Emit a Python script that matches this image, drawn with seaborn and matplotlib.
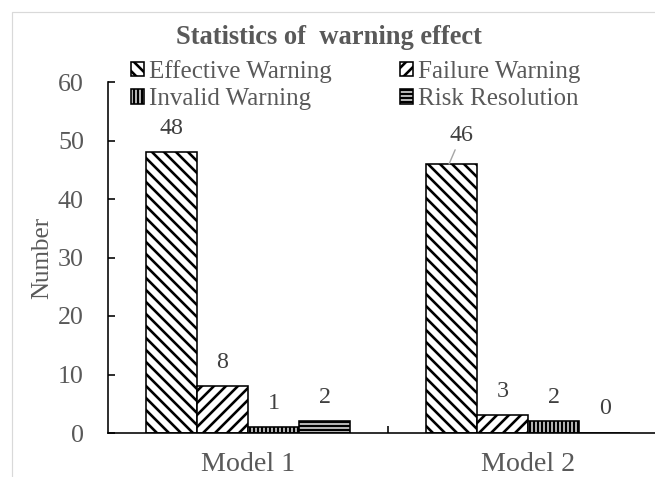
import matplotlib
matplotlib.use("Agg")
import matplotlib.pyplot as plt
import seaborn as sns
import pandas as pd
from matplotlib.patches import Rectangle, Patch

models = ["Model 1", "Model 2"]
series = ["Effective Warning", "Failure Warning", "Invalid Warning", "Risk Resolution"]
effective = [48, 46]
failure = [8, 3]
invalid = [1, 2]
risk = [2, 0]
yticks = [0, 10, 20, 30, 40, 50, 60]

values = {"Effective Warning": effective, "Failure Warning": failure,
          "Invalid Warning": invalid, "Risk Resolution": risk}
rows = []
for s in series:
    for m, v in zip(models, values[s]):
        rows.append({"Model": m, "Series": s, "Number": v})
df = pd.DataFrame(rows)

sns.set_theme(style="white")
plt.rcParams['font.family'] = ['Liberation Serif', 'DejaVu Serif']
plt.rcParams['hatch.linewidth'] = 2.6

DPI = 72
fig = plt.figure(figsize=(655 / DPI, 477 / DPI), dpi=DPI)
ax = fig.add_axes([108 / 655, 44 / 477, 560 / 655, 351 / 477])

sns.barplot(data=df, x="Model", y="Number", hue="Series", order=models,
            hue_order=series, width=0.73, ax=ax, legend=False,
            palette=["white"] * 4, edgecolor="black", linewidth=1.6,
            saturation=1)

hatches = ["\\\\", "//", "|||", "---"]
for cont, h in zip(ax.containers, hatches):
    for p in cont.patches:
        p.set_hatch(h)
        p.set_facecolor("white")
        p.set_edgecolor("black")

ax.set_ylim(0, 60)
ax.set_xlim(-0.5, 1.5)
ax.set_yticks(yticks)
ax.set_yticklabels([str(t) for t in yticks])
ax.set_xlabel("")
ax.set_ylabel("Number", fontsize=25, color="#595959", labelpad=5)

for side in ["top", "right"]:
    ax.spines[side].set_visible(False)
for side in ["left", "bottom"]:
    ax.spines[side].set_color("black")
    ax.spines[side].set_linewidth(1.6)

ax.tick_params(axis="y", direction="in", length=7, width=1.6, color="black",
               labelsize=26, labelcolor="#595959", pad=24, left=True)
ax.tick_params(axis="x", which="major", length=0, labelsize=28,
               labelcolor="#595959", pad=19)
ax.set_xticks([0.5], minor=True)
ax.tick_params(axis="x", which="minor", direction="in", length=7, width=1.6,
               color="black", bottom=True)

# value labels
for ci, cont in enumerate(ax.containers):
    for mi, p in enumerate(cont.patches):
        v = values[series[ci]][mi]
        xc = p.get_x() + p.get_width() / 2
        if ci == 0 and mi == 1:
            ax.annotate(str(v), (xc - 0.008, v), xytext=(12, 28), textcoords="offset points",
                        ha="center", va="center", fontsize=24, color="#404040",
                        arrowprops=dict(arrowstyle="-", color="#a6a6a6", lw=1.4,
                                        shrinkA=1, shrinkB=0))
        else:
            ax.annotate(str(v), (xc, v), xytext=(0, 24), textcoords="offset points",
                        ha="center", va="center", fontsize=24, color="#404040")

# legend (column-major fill -> reorder so rows read Effective/Failure, Invalid/Risk)
order = [0, 2, 1, 3]
handles = [Patch(facecolor="white", edgecolor="black", hatch=hatches[i], linewidth=1.6)
           for i in order]
labels = [series[i] for i in order]
leg = fig.legend(handles, labels, loc="upper left", bbox_to_anchor=(131 / 655, 1 - 60 / 477),
                 ncol=2, frameon=False, fontsize=25, handlelength=0.52, handleheight=0.52,
                 handletextpad=0.2, columnspacing=2.72, labelspacing=0.22,
                 borderaxespad=0, borderpad=0)
for t in leg.get_texts():
    t.set_color("#595959")

fig.text(329 / 655, 1 - 38 / 477, "Statistics of  warning effect", ha="center", va="center",
         fontsize=26.5, fontweight="bold", color="#595959")

# chart frame
fig.patches.append(Rectangle((12 / 655, -0.1), 1.2, 1 - 12 / 477 + 0.1,
                             transform=fig.transFigure, fill=False,
                             edgecolor="#d9d9d9", linewidth=1.2))

fig.savefig("out.png", dpi=DPI)
